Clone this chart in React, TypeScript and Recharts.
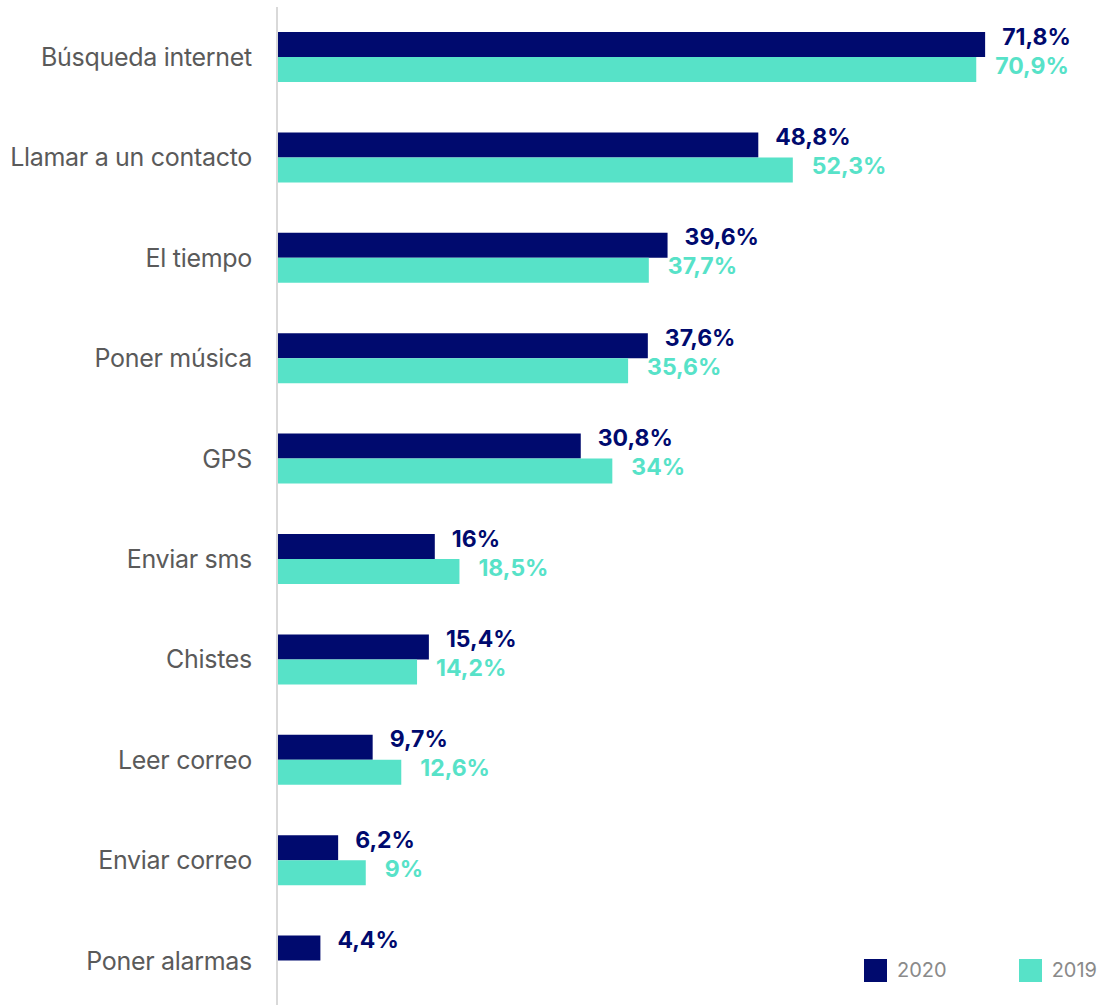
import { BarChart, Bar, XAxis, YAxis, LabelList } from 'recharts'

const categories = [
  'Búsqueda internet',
  'Llamar a un contacto',
  'El tiempo',
  'Poner música',
  'GPS',
  'Enviar sms',
  'Chistes',
  'Leer correo',
  'Enviar correo',
  'Poner alarmas',
]
const values2020 = [71.8, 48.8, 39.6, 37.6, 30.8, 16, 15.4, 9.7, 6.2, 4.4]
const values2019: (number | null)[] = [70.9, 52.3, 37.7, 35.6, 34, 18.5, 14.2, 12.6, 9, null]
const seriesNames = ['2020', '2019']

const NAVY = '#000a6e'
const TEAL = '#57e2c8'

const data = categories.map((name, i) => ({
  name,
  y2020: values2020[i],
  y2019: values2019[i],
}))

const fmt = (v: unknown) => (v == null ? '' : `${String(v).replace('.', ',')}%`)

function makeLabel(color: string, dx: number, dy: number) {
  return (props: any) => {
    const { x, y, width, height, value } = props
    if (value == null) return null
    return (
      <text
        x={x + width + dx}
        y={y + height / 2 + dy}
        fill={color}
        fontSize={23}
        fontWeight={700}
        dominantBaseline="central"
        textAnchor="start"
      >
        {fmt(value)}
      </text>
    )
  }
}

function LegendBox() {
  const colors = [NAVY, TEAL]
  return (
    <div style={{ position: 'absolute', left: 864, top: 958, display: 'flex', gap: 72, fontFamily: 'Inter, sans-serif' }}>
      {seriesNames.map((label, i) => (
        <div key={label} style={{ display: 'flex', alignItems: 'center' }}>
          <span style={{ width: 23, height: 23, background: colors[i], display: 'inline-block', marginRight: 10 }} />
          <span style={{ color: '#8a8a8a', fontSize: 20 }}>{label}</span>
        </div>
      ))}
    </div>
  )
}

export default function App() {
  return (
    <div style={{ position: 'absolute', left: 0, top: 0, width: 1099, height: 1005, overflow: 'hidden', background: '#fff' }}>
      <BarChart
        width={1099}
        height={1012}
        data={data}
        layout="vertical"
        margin={{ top: 7, right: 33, left: 0, bottom: 1 }}
        barGap={0}
        style={{ fontFamily: 'Inter, "Liberation Sans", sans-serif' }}
      >
        <XAxis type="number" domain={[0, 80]} hide />
        <YAxis
          type="category"
          dataKey="name"
          width={277}
          tickLine={false}
          axisLine={{ stroke: '#d9d9d9', strokeWidth: 2 }}
          tick={{ fontSize: 25, fill: '#5a5a5a', letterSpacing: -0.3 }}
          tickMargin={19}
        />
        <Bar dataKey="y2020" fill={NAVY} barSize={25} isAnimationActive={false}>
          <LabelList dataKey="y2020" content={makeLabel(NAVY, 17, -8)} />
        </Bar>
        <Bar dataKey="y2019" fill={TEAL} barSize={25} isAnimationActive={false}>
          <LabelList dataKey="y2019" content={makeLabel(TEAL, 19, -4)} />
        </Bar>
      </BarChart>
      <LegendBox />
    </div>
  )
}
